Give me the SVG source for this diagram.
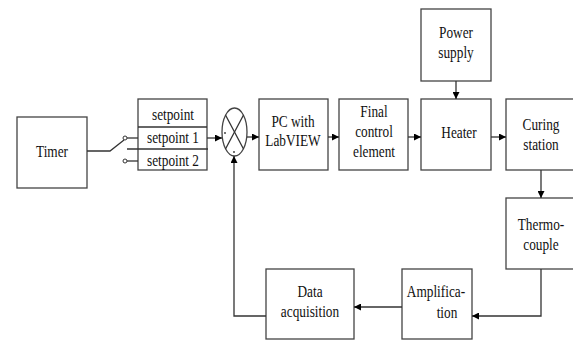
<svg xmlns="http://www.w3.org/2000/svg" width="573" height="340" viewBox="0 0 573 340">
<defs>
<marker id="ah" viewBox="0 0 10 10" refX="10" refY="5" markerWidth="7" markerHeight="7" markerUnits="userSpaceOnUse" orient="auto">
<path d="M0,0 L10,5 L0,10 z" fill="#000"/>
</marker>
<style>
.b{fill:#fff;stroke:#444;stroke-width:1.3}
.t{font-family:"Liberation Serif","Times New Roman",serif;font-size:13.3px;fill:#111;text-anchor:middle}
.c{fill:none;stroke:#333;stroke-width:1.3}
</style>
</defs>
<rect width="573" height="340" fill="#fff"/>
<g id="timer"><rect class="b" x="17" y="117" width="70" height="71"/><text class="t" transform="translate(52,157) scale(1,1.3)">Timer</text></g>
<g id="setpoints">
<rect class="b" x="138" y="99" width="69" height="71"/>
<line class="c" x1="138" y1="127" x2="207" y2="127"/>
<line class="c" x1="127" y1="149" x2="208" y2="149"/>
<text class="t" transform="translate(173,120) scale(1,1.3)">setpoint</text>
<text class="t" transform="translate(173,143) scale(1,1.3)">setpoint 1</text>
<text class="t" transform="translate(173,166) scale(1,1.3)">setpoint 2</text>
</g>
<g id="switch">
<circle cx="125" cy="138" r="2" fill="#fff" stroke="#333" stroke-width="1"/>
<circle cx="125" cy="161" r="2" fill="#fff" stroke="#333" stroke-width="1"/>
<line class="c" x1="127" y1="138" x2="138" y2="138"/>
<line class="c" x1="127" y1="161" x2="138" y2="161"/>
<polyline class="c" points="87,151 110,151 124,140"/>
</g>
<g id="sum">
<ellipse class="b" cx="234.5" cy="132" rx="12.5" ry="24"/>
<line class="c" x1="225.5" y1="115" x2="243.5" y2="149"/>
<line class="c" x1="243.5" y1="115" x2="225.5" y2="149"/>
<circle cx="225" cy="133" r="0.9" fill="#333"/>
<circle cx="234" cy="152" r="0.9" fill="#333"/>
</g>
<g id="pc"><rect class="b" x="259" y="99" width="69" height="71"/><text class="t" transform="translate(293,127) scale(1,1.3)">PC with</text><text class="t" transform="translate(293,146) scale(1,1.3)">LabVIEW</text></g>
<g id="final"><rect class="b" x="339" y="99" width="69" height="71"/><text class="t" transform="translate(374,117) scale(1,1.3)">Final</text><text class="t" transform="translate(374,137) scale(1,1.3)">control</text><text class="t" transform="translate(374,157) scale(1,1.3)">element</text></g>
<g id="power"><rect class="b" x="421" y="9" width="70" height="72"/><text class="t" transform="translate(456,38) scale(1,1.3)">Power</text><text class="t" transform="translate(456,58) scale(1,1.3)">supply</text></g>
<g id="heater"><rect class="b" x="421" y="99" width="70" height="71"/><text class="t" transform="translate(459,138) scale(1,1.3)">Heater</text></g>
<g id="curing"><rect class="b" x="506" y="99" width="75" height="71"/><text class="t" transform="translate(541,130) scale(1,1.3)">Curing</text><text class="t" transform="translate(541,150) scale(1,1.3)">station</text></g>
<g id="thermo"><rect class="b" x="506" y="198" width="75" height="71"/><text class="t" transform="translate(541,230) scale(1,1.3)">Thermo-</text><text class="t" transform="translate(541,250) scale(1,1.3)">couple</text></g>
<g id="amp"><rect class="b" x="402" y="269" width="70" height="70"/><text class="t" transform="translate(436,297) scale(1,1.3)">Amplifica-</text><text class="t" transform="translate(447,318) scale(1,1.3)">tion</text></g>
<g id="daq"><rect class="b" x="266" y="269" width="88" height="70"/><text class="t" transform="translate(310,297) scale(1,1.3)">Data</text><text class="t" transform="translate(310,317) scale(1,1.3)">acquisition</text></g>
<g id="connectors">
<line class="c" x1="207" y1="138" x2="222" y2="138" marker-end="url(#ah)"/>
<line class="c" x1="247" y1="137" x2="259" y2="137" marker-end="url(#ah)"/>
<line class="c" x1="328" y1="137" x2="339" y2="137" marker-end="url(#ah)"/>
<line class="c" x1="408" y1="137" x2="421" y2="137" marker-end="url(#ah)"/>
<line class="c" x1="456" y1="81" x2="456" y2="99" marker-end="url(#ah)"/>
<line class="c" x1="491" y1="137" x2="506" y2="137" marker-end="url(#ah)"/>
<line class="c" x1="541" y1="170" x2="541" y2="198" marker-end="url(#ah)"/>
<polyline class="c" points="541,269 541,316 472,316" marker-end="url(#ah)"/>
<line class="c" x1="402" y1="307" x2="354" y2="307" marker-end="url(#ah)"/>
<polyline class="c" points="266,316 234,316 234,156" marker-end="url(#ah)"/>
</g>
</svg>
